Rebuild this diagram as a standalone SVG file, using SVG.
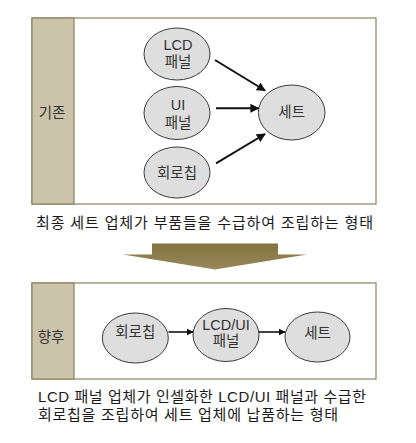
<svg xmlns="http://www.w3.org/2000/svg" width="416" height="443" viewBox="0 0 416 443">
<style>
.frame{fill:#ffffff;stroke:#8c8262;stroke-width:1.2}
.band{fill:#cbc4ab;stroke:#8c8262;stroke-width:1.2}
.node{fill:#dedede;stroke:#3a3a3a;stroke-width:1}
.lbl{font-family:"Liberation Sans","Noto Sans CJK KR",sans-serif;font-size:14.5px;fill:#333333;text-anchor:middle}
.cap{font-family:"Liberation Sans","Noto Sans CJK KR",sans-serif;font-size:15px;fill:#1a1a1a}
.edge{stroke:#111111;stroke-width:2;fill:none;marker-end:url(#ah)}
.edge2{stroke:#111111;stroke-width:1.6;fill:none;marker-end:url(#ah)}
</style>
<defs>
<marker id="ah" viewBox="0 0 10 10" refX="9" refY="5" markerWidth="4.5" markerHeight="4.5" orient="auto" markerUnits="strokeWidth">
<path d="M0,0 L10,5 L0,10 z" fill="#111111"/>
</marker>
<linearGradient id="bigarrow" x1="0" y1="0" x2="0" y2="1">
<stop offset="0" stop-color="#85743f"/>
<stop offset="1" stop-color="#97875a"/>
</linearGradient>
</defs>
<rect width="416" height="443" fill="#ffffff"/>

<g id="panel-before">
<rect class="frame" x="32" y="18" width="344" height="186"/>
<rect class="band" x="32" y="18" width="42" height="186"/>
<text class="lbl" x="52" y="118">기존</text>
</g>
<g id="node-lcd">
<ellipse class="node" cx="177" cy="54" rx="33" ry="26"/>
<text class="lbl" x="178" y="50">LCD</text>
<text class="lbl" x="178" y="67">패널</text>
</g>
<g id="node-ui">
<ellipse class="node" cx="177" cy="113" rx="33" ry="26.5"/>
<text class="lbl" x="178" y="110">UI</text>
<text class="lbl" x="178" y="128">패널</text>
</g>
<g id="node-chip">
<ellipse class="node" cx="177" cy="172.5" rx="33" ry="25.5"/>
<text class="lbl" x="177" y="178">회로칩</text>
</g>
<g id="node-set">
<ellipse class="node" cx="291.7" cy="112.5" rx="33.3" ry="27.5"/>
<text class="lbl" x="291.7" y="117">세트</text>
</g>
<text class="cap" x="36" y="228" textLength="337" lengthAdjust="spacing">최종 세트 업체가 부품들을 수급하여 조립하는 형태</text>

<g id="big-arrow">
<path d="M152,243.5 L278,243.5 L278,254.5 L307,254.5 L215,269.5 L123,254.5 L152,254.5 z" fill="url(#bigarrow)"/>
</g>

<g id="panel-after">
<rect class="frame" x="32" y="283" width="344" height="96"/>
<rect class="band" x="32" y="283" width="42" height="96"/>
<text class="lbl" x="51" y="342">향후</text>
</g>
<g id="node-chip2">
<ellipse class="node" cx="135.3" cy="338" rx="33" ry="25"/>
<text class="lbl" x="135.3" y="337">회로칩</text>
</g>
<g id="node-lcdui">
<ellipse class="node" cx="226" cy="335" rx="33" ry="26.5"/>
<text class="lbl" x="226" y="330">LCD/UI</text>
<text class="lbl" x="226" y="346">패널</text>
</g>
<g id="node-set2">
<ellipse class="node" cx="317.5" cy="337" rx="32.5" ry="25"/>
<text class="lbl" x="317.5" y="338">세트</text>
</g>
<text class="cap" x="38" y="402" textLength="328" lengthAdjust="spacing">LCD 패널 업체가 인셀화한 LCD/UI 패널과 수급한</text>
<text class="cap" x="38" y="420" textLength="300" lengthAdjust="spacing">회로칩을 조립하여 세트 업체에 납품하는 형태</text>

<g id="connectors">
<line class="edge" x1="215" y1="60" x2="265" y2="90.5"/>
<line class="edge" x1="216" y1="108.3" x2="258.5" y2="108.3"/>
<line class="edge" x1="216" y1="163.3" x2="265" y2="134"/>
<line class="edge2" x1="168.5" y1="332" x2="193" y2="332"/>
<line class="edge2" x1="259" y1="332" x2="285" y2="332"/>
</g>
</svg>
